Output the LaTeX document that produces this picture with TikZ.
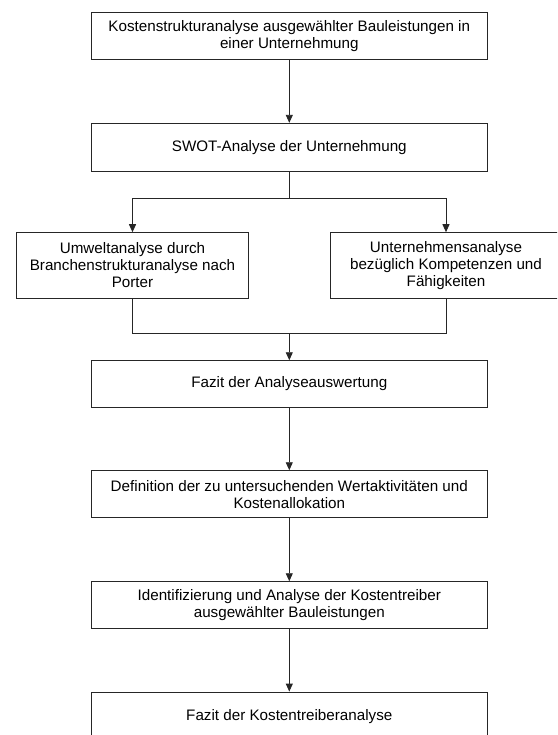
\documentclass[tikz,border=0pt]{standalone}
\usepackage{fontspec}
\setmainfont{Liberation Sans}
\usetikzlibrary{arrows.meta}
\begin{document}
\begin{tikzpicture}[x=1pt,y=-1pt,
  box/.style={draw=black!85,line width=0.9pt,fill=white,inner sep=0pt,align=center,
    font=\fontsize{15.2}{17.2}\selectfont},
  wide/.style={box,minimum width=395.3pt},
  side/.style={box,minimum width=231.5pt,minimum height=65.3pt},
  conn/.style={draw=black!85,line width=0.9pt},
  arr/.style={conn,-{Triangle[width=7pt,length=8pt]}}]
\clip (0,0) rectangle (557,735);
\fill[white] (0,0) rectangle (557,735);
\node[wide,minimum height=46.6pt] (b1) at (289.3,36) {Kostenstrukturanalyse ausgewählter Bauleistungen in\\einer Unternehmung};
\node[wide,minimum height=48pt] (b2) at (289.3,147.3) {SWOT-Analyse der Unternehmung};
\node[side] (l) at (132.5,265.3) {Umweltanalyse durch\\Branchenstrukturanalyse nach\\Porter};
\node[side] (r) at (446,265.3) {Unternehmensanalyse\\bezüglich Kompetenzen und\\Fähigkeiten};
\node[wide,minimum height=46.6pt] (b3) at (289.3,384) {Fazit der Analyseauswertung};
\node[wide,minimum height=47pt] (b4) at (289.3,494.2) {Definition der zu untersuchenden Wertaktivitäten und\\Kostenallokation};
\node[wide,minimum height=46.6pt] (b5) at (289.3,605) {Identifizierung und Analyse der Kostentreiber\\ausgewählter Bauleistungen};
\node[wide,minimum height=49pt] (b6) at (289.3,716.5) {Fazit der Kostentreiberanalyse};
\coordinate (s1) at (289.3,198.3);
\coordinate (j1) at (289.3,333.3);
\draw[arr] (b1) -- (b2);
\draw[conn] (b2) -- (s1);
\draw[arr] (s1) -| (l);
\draw[arr] (s1) -| (r);
\draw[conn] (l) |- (j1);
\draw[conn] (r) |- (j1);
\draw[arr] (j1) -- (b3);
\draw[arr] (b3) -- (b4);
\draw[arr] (b4) -- (b5);
\draw[arr] (b5) -- (b6);
\end{tikzpicture}
\end{document}
